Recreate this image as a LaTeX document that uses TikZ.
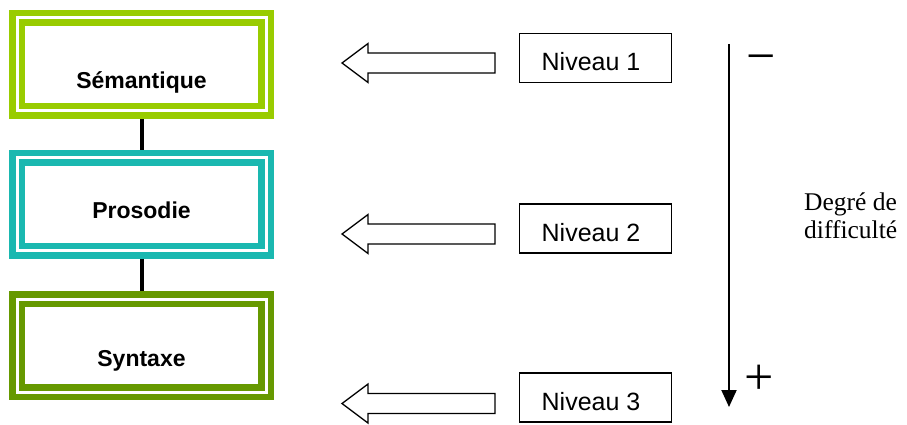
\documentclass[tikz,border=0pt]{standalone}
\usepackage{fontspec}
\setmainfont{Liberation Serif}
\newfontfamily\arialfont{Liberation Sans}
\usetikzlibrary{arrows.meta}
\definecolor{limeg}{HTML}{99CC00}
\definecolor{tealc}{HTML}{1AB8B0}
\definecolor{oliveg}{HTML}{669900}
\tikzset{
  levelbox/.style={draw=#1, line width=6.5pt, double=white, double distance=3pt,
    minimum width=249pt, minimum height=93pt, inner sep=0pt, outer sep=8pt},
  boxlabel/.style={font=\arialfont\bfseries\fontsize{23}{23}\selectfont, inner sep=0pt},
  nivbox/.style={draw=black, line width=1.3pt, minimum width=152pt, minimum height=49pt,
    inner sep=0pt, text height=26pt, text depth=0pt, font=\arialfont\fontsize{25}{25}\selectfont},
  blockarrow/.style={draw=black, line width=1.3pt, fill=white, line join=miter},
  link/.style={line width=4pt, draw=black},
  signtext/.style={font=\fontsize{52}{52}\selectfont, inner sep=0pt, anchor=base},
  leftarrow/.pic={\draw[blockarrow] (0,-10) -- (-127,-10) -- (-127,-19.5) -- (-153,0)
    -- (-127,19.5) -- (-127,10) -- (0,10) -- cycle;}
}
\begin{document}
\begin{tikzpicture}[x=1pt,y=-1pt]
\useasboundingbox[fill=white] (0,0) rectangle (907,425);
% left stack
\node[levelbox=limeg] (s1) at (141.5,64.5) {};
\node[levelbox=tealc] (s2) at (141.5,204) {};
\node[levelbox=oliveg] (s3) at (141.5,345.5) {};
\node[boxlabel] (l1) at (141.5,82) {Sémantique};
\node[boxlabel] (l2) at (141.5,210) {Prosodie};
\node[boxlabel] (l3) at (141.5,361) {Syntaxe};
\draw[link] (s1.south) -- (s2.north);
\draw[link] (s2.south) -- (s3.north);
% levels
\node[nivbox] (n1) at (595.5,58) {Niveau 1\hspace*{9pt}};
\node[nivbox] (n2) at (595.5,228.5) {Niveau 2\hspace*{9pt}};
\node[nivbox] (n3) at (595.5,397.5) {Niveau 3\hspace*{9pt}};
\pic at (495,63) {leftarrow};
\pic at (495,234) {leftarrow};
\pic at (495,403.5) {leftarrow};
% difficulty axis
\coordinate (top) at (729,44);
\coordinate (bot) at (729,407);
\draw[line width=2pt, -{Triangle[width=15pt,length=17pt]}] (top) -- (bot);
\node[signtext] (minus) at (761.5,74) {−};
\node[signtext] (plus) at (759.5,394) {+};
\node[anchor=west, align=left, font=\fontsize{25.5}{28}\selectfont, inner sep=0pt] (deg) at (804,216) {Degré de\\difficulté};
\end{tikzpicture}
\end{document}
